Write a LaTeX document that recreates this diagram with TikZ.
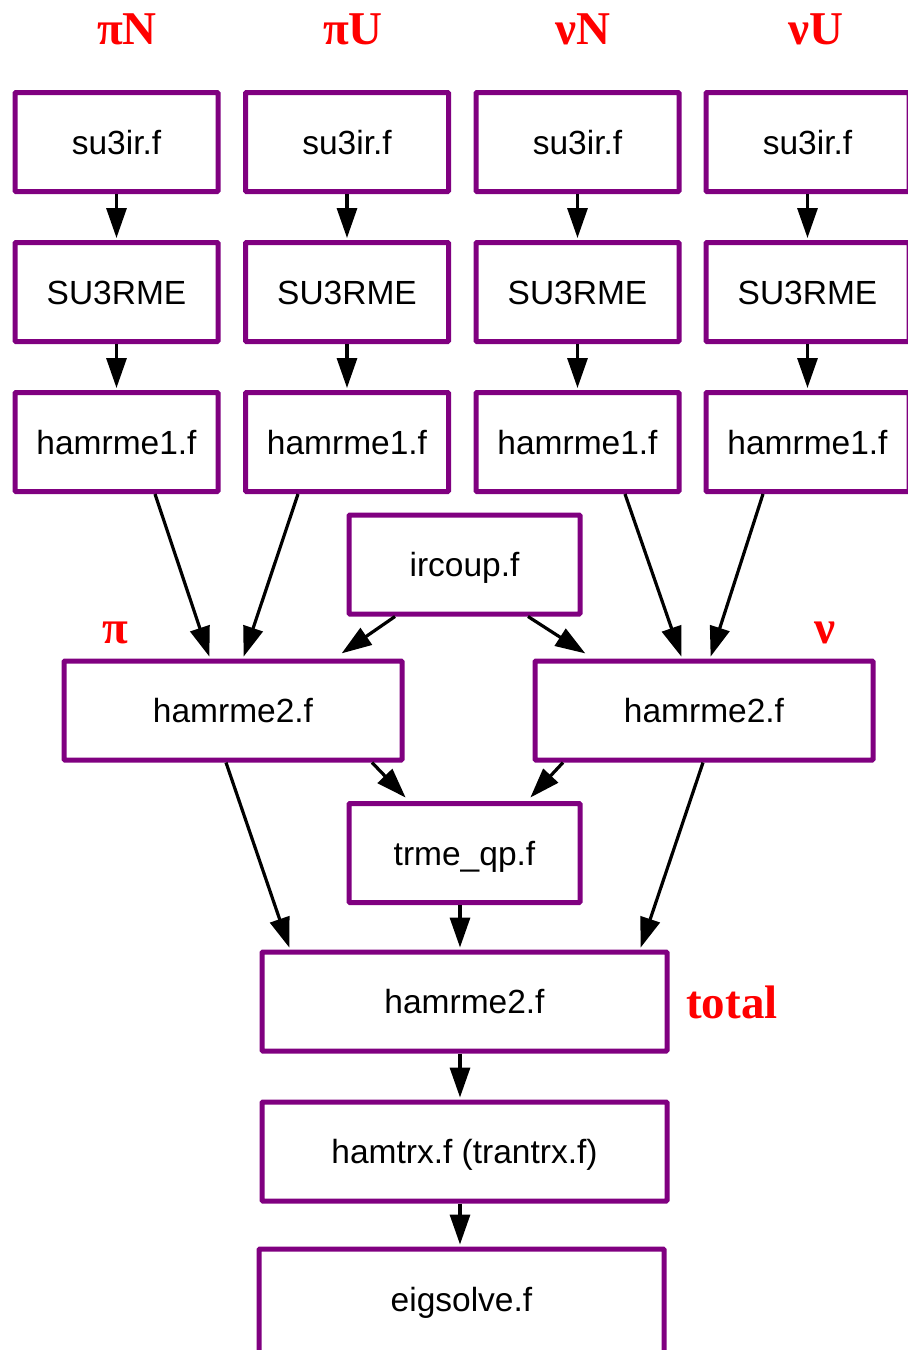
\documentclass[tikz,border=0pt]{standalone}
\usepackage{fontspec}
\setmainfont{Liberation Sans}
\newfontfamily\labelfont{Liberation Serif}
\usetikzlibrary{arrows.meta}
\definecolor{boxpurple}{HTML}{800080}
\definecolor{labelred}{HTML}{FF0000}
\begin{document}
\begin{tikzpicture}[x=1pt,y=-1pt,
  stagebox/.style={draw=boxpurple, line width=5pt, rounded corners=1pt, fill=white,
    minimum height=99pt, inner sep=0pt, text height=24pt, text depth=0pt,
    font=\fontsize{33.5}{40}\selectfont},
  narrowbox/.style={stagebox, minimum width=203pt},
  midbox/.style={stagebox, minimum width=231pt},
  widebox/.style={stagebox, minimum width=338pt},
  fullbox/.style={stagebox, minimum width=405pt},
  flow/.style={line width=3.2pt, -{Triangle[length=30pt,width=20pt]}, shorten >=2pt},
  tag/.style={text=labelred, anchor=base, inner sep=0pt,
    font=\labelfont\bfseries\fontsize{47}{50}\selectfont}]
\useasboundingbox (0,0) rectangle (908,1350);

% channel labels
\node[tag] (tpiN) at (127,44) {πN};
\node[tag] (tpiU) at (353,44) {πU};
\node[tag] (tnuN) at (583,44) {νN};
\node[tag] (tnuU) at (816,44) {νU};

% four parallel chains
\foreach \i/\x in {1/116.5, 2/347, 3/577.5, 4/807.5} {
  \node[narrowbox] (a\i) at (\x,142) {su3ir.f};
  \node[narrowbox] (b\i) at (\x,292) {SU3RME};
  \node[narrowbox] (c\i) at (\x,442) {hamrme1.f};
  \draw[flow] (a\i.south) -- (b\i.north);
  \draw[flow] (b\i.south) -- (c\i.north);
}

\node[midbox] (ircoup) at (464.5,564.5) {ircoup.f};
\node[widebox] (hpi) at (233,710.5) {hamrme2.f};
\node[widebox] (hnu) at (704,710.5) {hamrme2.f};
\node[midbox] (trme) at (464.5,853) {trme\_qp.f};
\node[fullbox] (htot) at (464.5,1001.5) {hamrme2.f};
\node[fullbox] (hamtrx) at (464.5,1151.5) {hamtrx.f (trantrx.f)};
\node[fullbox, minimum height=110pt, text depth=9pt] (eig) at (461.5,1304) {eigsolve.f};

\node[tag] (tpi) at (115,643) {π};
\node[tag] (tnu) at (825,643) {ν};
\node[tag, anchor=base west] (ttot) at (686,1018) {total};

% into the proton and neutron stages
\draw[flow] ([xshift=38.5pt]c1.south) -- ([xshift=-23pt]hpi.north);
\draw[flow] ([xshift=-49pt]c2.south) -- ([xshift=10pt]hpi.north);
\draw[flow] ([xshift=47.5pt]c3.south) -- ([xshift=-22pt]hnu.north);
\draw[flow] ([xshift=-44.5pt]c4.south) -- ([xshift=6pt]hnu.north);
\draw[flow] ([xshift=-69.5pt]ircoup.south) -- ([xshift=107pt,yshift=4pt]hpi.north);
\draw[flow] ([xshift=63.5pt]ircoup.south) -- ([xshift=-117pt,yshift=4pt]hnu.north);

% into the combined stage
\draw[flow] ([xshift=139pt]hpi.south) -- ([xshift=-57.5pt,yshift=2pt]trme.north);
\draw[flow] ([xshift=-141pt]hnu.south) -- ([xshift=64.5pt,yshift=2pt]trme.north);
\draw[flow] ([xshift=-7pt]hpi.south) -- ([xshift=-174.5pt]htot.north);
\draw[flow] ([xshift=-1pt]hnu.south) -- ([xshift=175.5pt]htot.north);
\draw[flow] ([xshift=-4.5pt]trme.south) -- ([xshift=-4.5pt]htot.north);
\draw[flow] ([xshift=-4.5pt]htot.south) -- ([xshift=-4.5pt]hamtrx.north);
\draw[flow] ([xshift=-4.5pt]hamtrx.south) -- ([xshift=-1.5pt]eig.north);
\end{tikzpicture}
\end{document}
